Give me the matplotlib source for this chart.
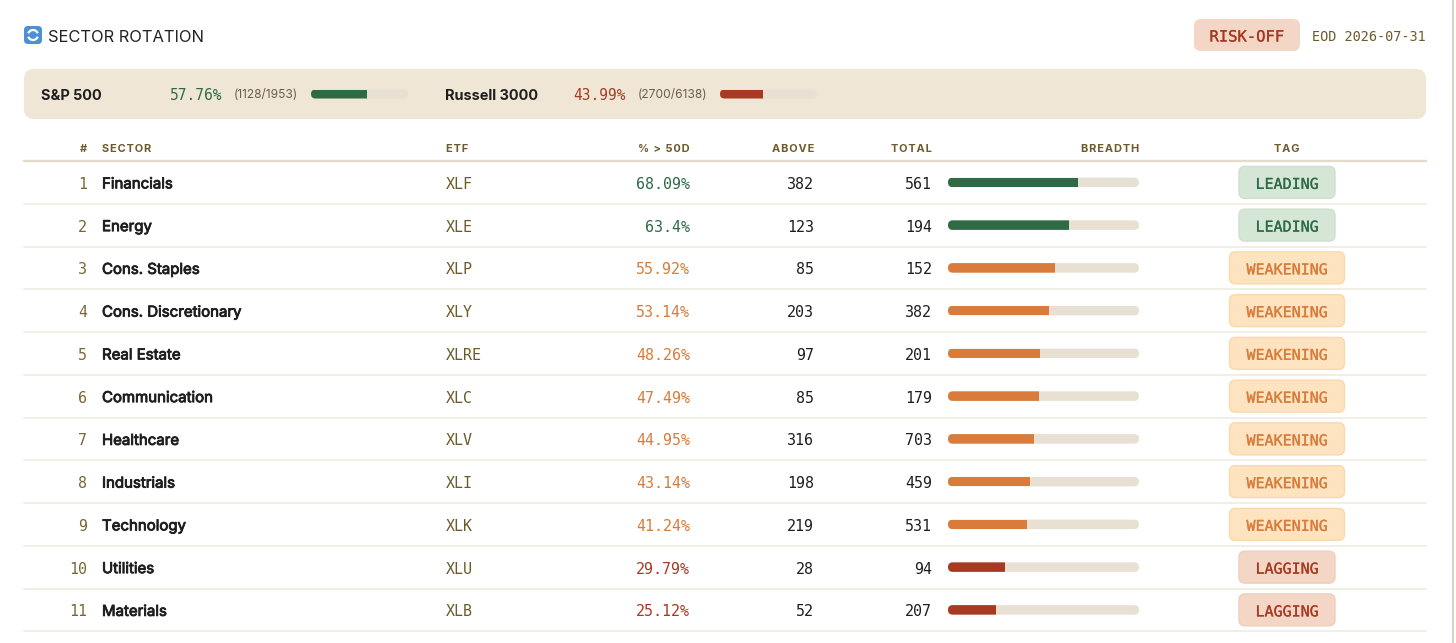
import matplotlib
matplotlib.use("Agg")
import matplotlib.pyplot as plt
from matplotlib.patches import FancyBboxPatch, Arc
import matplotlib.patheffects as pe
import numpy as np

# ---------------- data ----------------
sectors = ["Financials", "Energy", "Cons. Staples", "Cons. Discretionary", "Real Estate",
           "Communication", "Healthcare", "Industrials", "Technology", "Utilities", "Materials"]
etfs = ["XLF", "XLE", "XLP", "XLY", "XLRE", "XLC", "XLV", "XLI", "XLK", "XLU", "XLB"]
pct_above = [68.09, 63.4, 55.92, 53.14, 48.26, 47.49, 44.95, 43.14, 41.24, 29.79, 25.12]
above = [382, 123, 85, 203, 97, 85, 316, 198, 219, 28, 52]
total = [561, 194, 152, 382, 201, 179, 703, 459, 531, 94, 207]
tags = ["LEADING", "LEADING", "WEAKENING", "WEAKENING", "WEAKENING", "WEAKENING",
        "WEAKENING", "WEAKENING", "WEAKENING", "LAGGING", "LAGGING"]

index_names = ["S&P 500", "Russell 3000"]
index_pct = [57.76, 43.99]
index_above = [1128, 2700]
index_total = [1953, 6138]
index_tag = ["LEADING", "LAGGING"]

headers = ["#", "SECTOR", "ETF", "% > 50D", "ABOVE", "TOTAL", "BREADTH", "TAG"]
regime = "RISK-OFF"
as_of = "EOD 2026-07-31"
title = "SECTOR ROTATION"

# ---------------- styles ----------------
W, H = 1456, 643
PT = 0.72  # pt per px at dpi 100
SANS = ["Inter", "DejaVu Sans"]
MONO = ["DejaVu Sans Mono"]
HAIR = "\u200a"

TAG_STYLE = {
    "LEADING": dict(fg="#2D6A47", bg="#D6E6D6", edge="#CFE0CF", bar="#2E6B45", w=96),
    "WEAKENING": dict(fg="#D97B3A", bg="#FDE3BF", edge="#F9D9AA", bar="#D97B3A", w=115),
    "LAGGING": dict(fg="#A83A22", bg="#F3D6C5", edge="#EFCFBD", bar="#A83A22", w=96),
}
TRACK = "#E7E0D3"
HEAD_C = "#6E5A2C"
NUM_C = "#7A6634"
ETF_C = "#6B5A2A"
TEXT_C = "#1E1E1E"

fig = plt.figure(figsize=(W / 100, H / 100), dpi=100)
fig.patch.set_facecolor("white")
ax = fig.add_axes([0, 0, 1, 1])
ax.set_xlim(0, W)
ax.set_ylim(H, 0)
ax.axis("off")


def txt(x, y, s, px, color, ha="left", family=SANS, weight="normal", thick=0.0, **kw):
    t = ax.text(x, y, s, fontsize=px * PT, color=color, ha=ha, va="center_baseline",
                family=family, fontweight=weight, **kw)
    if thick > 0:
        t.set_path_effects([pe.withStroke(linewidth=thick, foreground=color)])
    return t


def spaced(s):
    return HAIR.join(list(s))


def rbox(x, y, w, h, r, fc, ec="none", lw=0, z=1):
    p = FancyBboxPatch((x, y), w, h, boxstyle=f"round,pad=0,rounding_size={r}",
                       fc=fc, ec=ec, lw=lw, zorder=z)
    ax.add_patch(p)
    return p


def breadth_bar(x0, yc, width, h, value, color, track=TRACK):
    trk = rbox(x0, yc - h / 2, width, h, h / 2, track, z=2)
    bars = ax.barh([yc], [value / 100.0 * width], left=x0, height=h, color=color,
                   zorder=3, linewidth=0)
    for b in bars:
        b.set_clip_path(trk)


# ---------------- title bar ----------------
rbox(24, 26, 18, 18, 4, "#4F8FD6", z=2)
ax.add_patch(Arc((33, 35), 10, 10, theta1=20, theta2=160, color="white", lw=1.6, zorder=3))
ax.add_patch(Arc((33, 35), 10, 10, theta1=200, theta2=340, color="white", lw=1.6, zorder=3))
txt(48, 35.5, title, 16.5, "#222222", family=SANS)

rbox(1194, 19, 106, 32, 7, "#F3D6C5", z=2)
txt(1247, 35.5, regime, 15.5, "#A33A20", ha="center", family=MONO, thick=0.15, zorder=4)
txt(1426, 35.5, as_of, 13.5, ETF_C, ha="right", family=MONO)

ax.plot([1453, 1453], [0, H], color="#DCD2C2", lw=1.5, zorder=1)

# ---------------- summary panel ----------------
rbox(24, 69, 1402, 50, 10, "#F0E6D6", z=1)
idx_x = [(41, 170, 234, 311), (445, 573, 638, 720)]
for i, name in enumerate(index_names):
    xn, xp, xc, xb = idx_x[i]
    st = TAG_STYLE[index_tag[i]]
    yc = 94
    txt(xn, yc, name, 14.5, TEXT_C, weight="bold")
    txt(xp, yc, f"{index_pct[i]:g}%", 14.5, st["fg"], family=MONO)
    txt(xc, yc, f"({index_above[i]}/{index_total[i]})", 12, "#6B5F4A")
    breadth_bar(xb, yc, 97, 9, index_pct[i], st["bar"], track="#E8E0D2")

# ---------------- table header ----------------
hy = 148
hsz = 11
hdr_pos = [(87, "right"), (102, "left"), (446, "left"), (690, "right"),
           (814, "right"), (932, "right"), (1139, "right"), (1287, "center")]
for (hx, ha), h in zip(hdr_pos, headers):
    txt(hx, hy, spaced(h), hsz, HEAD_C, ha=ha, weight="bold")
ax.plot([24, 1426], [161, 161], color="#E2DACB", lw=1.6, zorder=2)

# ---------------- rows ----------------
row_h = 42.75
top = 161
for i in range(len(sectors)):
    yc = top + row_h * (i + 0.5)
    st = TAG_STYLE[tags[i]]
    ty = yc + 0.5
    txt(87, ty, str(i + 1), 15, NUM_C, ha="right", family=MONO)
    txt(102, ty, sectors[i], 15, TEXT_C, weight="normal", thick=0.6)
    txt(446, ty, etfs[i], 15, ETF_C, family=MONO)
    txt(690, ty, f"{pct_above[i]:g}%", 15, st["fg"], ha="right", family=MONO)
    txt(814, ty, str(above[i]), 15, TEXT_C, ha="right", family=MONO)
    txt(932, ty, str(total[i]), 15, TEXT_C, ha="right", family=MONO)
    breadth_bar(948, yc, 191, 9.5, pct_above[i], st["bar"])
    bw = st["w"]
    rbox(1287 - bw / 2, yc - 16, bw, 32, 6, st["bg"], ec=st["edge"], lw=1, z=2)
    txt(1287, ty, tags[i], 15, st["fg"], ha="center", family=MONO, thick=0.15, zorder=4)
    ax.plot([24, 1426], [top + row_h * (i + 1)] * 2, color="#EEE9DF", lw=1.1, zorder=1)

fig.savefig("out.png", dpi=100, facecolor="white")
